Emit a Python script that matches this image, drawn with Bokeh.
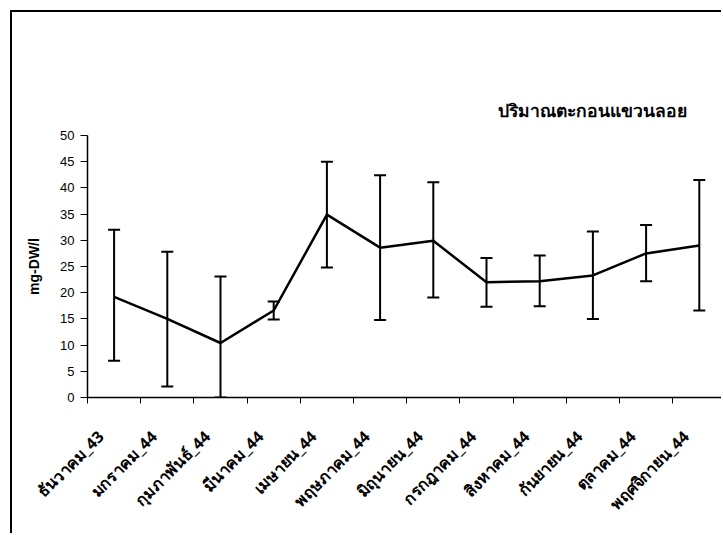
from bokeh.plotting import figure
from bokeh.models import (ColumnDataSource, FixedTicker, Whisker, TeeHead,
                          Range1d)
from bokeh.embed import file_html
from bokeh.resources import INLINE
import math

# Monthly suspended sediment (mg-DW/l) with mean and error range
months = ["ธันวาคม_43", "มกราคม_44", "กุมภาพันธ์_44", "มีนาคม_44", "เมษายน_44",
          "พฤษภาคม_44", "มิถุนายน_44", "กรกฎาคม_44", "สิงหาคม_44", "กันยายน_44",
          "ตุลาคม_44", "พฤศจิกายน_44"]
mean = [19.2, 15.0, 10.4, 16.6, 34.9, 28.6, 29.9, 22.0, 22.2, 23.3, 27.5, 29.0]
upper = [32.0, 27.8, 23.1, 18.3, 45.0, 42.4, 41.1, 26.6, 27.1, 31.7, 32.9, 41.5]
lower = [7.0, 2.1, 0.0, 14.9, 24.8, 14.8, 19.1, 17.3, 17.4, 15.0, 22.2, 16.6]
y_ticks = [0, 5, 10, 15, 20, 25, 30, 35, 40, 45, 50]

centers = [i + 0.5 for i in range(len(months))]
bounds = [float(i) for i in range(len(months) + 1)]
# slanted labels end a little left of each category centre
label_pos = [c - 0.25 for c in centers]

src = ColumnDataSource(dict(x=centers, mean=mean, upper=upper, lower=lower))

# The chart area sits inside a box with a left and top border
p = figure(width=711, height=523, output_backend="svg", toolbar_location=None,
           x_range=Range1d(0, 11.955), y_range=Range1d(0, 50),
           min_border_left=75, min_border_right=0, min_border_top=123,
           min_border_bottom=138,
           title="ปริมาณตะกอนแขวนลอย",
           styles={"position": "absolute", "left": "10px", "top": "10px",
                   "border-left": "2px solid black",
                   "border-top": "2px solid black"})
p.outline_line_color = None
p.grid.visible = False
p.background_fill_color = "white"
p.border_fill_color = "white"

p.title.align = "left"
p.title.offset = 410
p.title.standoff = 28
p.title.text_font = "Noto Sans"
p.title.text_font_size = "17.5px"
p.title.text_font_style = "bold"
p.title.text_color = "black"

p.add_layout(Whisker(source=src, base="x", upper="upper", lower="lower",
                     line_color="black", line_width=2,
                     upper_head=TeeHead(size=12, line_color="black", line_width=2),
                     lower_head=TeeHead(size=12, line_color="black", line_width=2)))
p.line("x", "mean", source=src, line_color="black", line_width=2.5)

# X axis: category labels near centres, ticks at category boundaries
xa = p.xaxis[0]
xa.ticker = FixedTicker(ticks=label_pos, minor_ticks=bounds)
xa.major_label_overrides = {lp: m for lp, m in zip(label_pos, months)}
xa.major_label_orientation = math.pi / 4
xa.major_tick_line_color = None
xa.minor_tick_in = 0
xa.minor_tick_out = 6
xa.minor_tick_line_color = "black"
xa.axis_line_color = "black"
xa.axis_line_width = 1.5
xa.major_label_text_font = "Noto Sans"
xa.major_label_text_font_size = "16px"
xa.major_label_text_font_style = "bold"
xa.major_label_text_color = "black"
xa.major_label_standoff = 30

ya = p.yaxis[0]
ya.ticker = FixedTicker(ticks=y_ticks, minor_ticks=[])
ya.major_tick_in = 0
ya.major_tick_out = 7
ya.major_tick_line_color = "black"
ya.axis_line_color = "black"
ya.axis_line_width = 1.5
ya.major_label_text_font = "Liberation Sans"
ya.major_label_text_font_size = "13px"
ya.major_label_text_color = "black"
ya.major_label_standoff = 6
ya.axis_label = "mg-DW/l"
ya.axis_label_text_font = "Liberation Sans"
ya.axis_label_text_font_size = "14px"
ya.axis_label_text_font_style = "bold"
ya.axis_label_text_color = "black"
ya.axis_label_standoff = 15

open("out.html", "w").write(file_html(p, INLINE))
